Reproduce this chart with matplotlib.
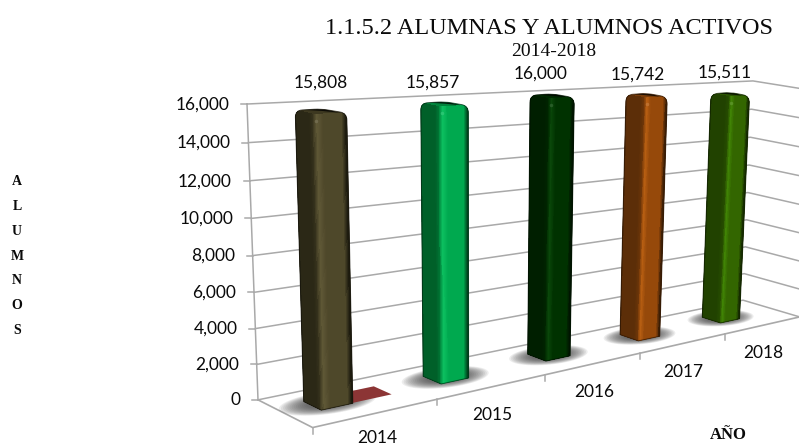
"""
Alumnas y alumnos activos 2014-2018, Excel style 3D column chart.
The perspective is a small camera matrix fitted to the chart frame.
"""
import matplotlib
matplotlib.use("Agg")
import matplotlib.pyplot as plt
import numpy as np
from matplotlib.collections import PolyCollection
from matplotlib.colors import to_rgb
from matplotlib.patches import PathPatch, Polygon
from matplotlib.path import Path

years = ["2014", "2015", "2016", "2017", "2018"]
alumnos = [15808, 15857, 16000, 15742, 15511]
alumnos_labels = ["15,808", "15,857", "16,000", "15,742", "15,511"]
serie_roja = [25, 0, 0, 0, 0]
y_ticks = [0, 2000, 4000, 6000, 8000, 10000, 12000, 14000, 16000]

side_colors = ["#2b2816", "#006029", "#001f00", "#5c2e08", "#214200"]
front_colors = ["#4e482a", "#00a94f", "#003200", "#96490a", "#336600"]
shine_colors = ["#5f5836", "#0cc060", "#0a480a", "#b85f12", "#418505"]
red_color = "#8c3535"
grid_color = "#a9a9a9"
text_color = "#0a0a0a"

VMAX = 16000.0

# frame of the chart: (category, value, depth) -> pixel, depth 0 is the front
anchors_world = np.array([
    (0, 0, 0), (1, 0, 0), (2, 0, 0), (3, 0, 0), (4, 0, 0), (5, 0, 0),
    (0, 0, 1), (5, 0, 1), (0, 1, 1), (5, 1, 1), (0, 1, 0), (5, 1, 0),
], dtype=float)
anchors_pixel = np.array([
    (313, 425), (437, 398), (545, 375), (640, 355), (725, 337), (800, 316),
    (258, 400), (743, 300), (247, 104), (753, 81), (303, 110), (808, 85),
], dtype=float)
# back wall has to sit right, the front top corners are only a guess
anchor_weight = [1, 1, 1, 1, 1, 1, 4, 4, 4, 4, 0.3, 0.3]


def fit_camera(world, pixel, weight):
    rows, rhs = [], []
    for (x, y, z), (u, v), w in zip(world, pixel, weight):
        rows.append([w * c for c in (x, y, z, 1, 0, 0, 0, 0, -u * x, -u * y, -u * z)])
        rows.append([w * c for c in (0, 0, 0, 0, x, y, z, 1, -v * x, -v * y, -v * z)])
        rhs += [w * u, w * v]
    sol = np.linalg.lstsq(np.array(rows), np.array(rhs), rcond=None)[0]
    return np.append(sol, 1.0).reshape(3, 4)


CAM = fit_camera(anchors_world, anchors_pixel, anchor_weight)


def project(cat, value, depth):
    """Chart position to pixel position"""
    p = CAM @ np.array([cat, value / VMAX, depth, 1.0])
    return p[0] / p[2], p[1] / p[2]


def mix(c1, c2, t):
    return tuple((1 - t) * a + t * b for a, b in zip(to_rgb(c1), to_rgb(c2)))


def rounded_path(pts, corners, r):
    """Closed outline, the vertices listed in corners get a rounded corner"""
    pts = [np.array(p) for p in pts]
    verts, codes = [], []
    n = len(pts)
    for i, p in enumerate(pts):
        if i in corners:
            a = p + (pts[i - 1] - p) / np.linalg.norm(pts[i - 1] - p) * r
            b = p + (pts[(i + 1) % n] - p) / np.linalg.norm(pts[(i + 1) % n] - p) * r
            verts += [a, p, b]
            codes += [Path.LINETO, Path.CURVE3, Path.CURVE3]
        else:
            verts.append(p)
            codes.append(Path.LINETO)
    codes[0] = Path.MOVETO
    verts.append(verts[0])
    codes.append(Path.CLOSEPOLY)
    return Path(np.array(verts), codes)


def draw_shadow(ax, x0, x1, z0, z1):
    cx, cz = (x0 + x1) / 2, (z0 + z1) / 2
    th = np.linspace(0, 2 * np.pi, 60)
    for f in np.linspace(1.0, 0.45, 14):
        ring = [project(cx + 0.36 * f * np.cos(t), 0, cz + 0.32 * f * np.sin(t)) for t in th]
        ax.add_patch(Polygon(ring, closed=True, fc="#3c3c3c", ec="none", alpha=0.09, zorder=3))


def face_strips(start, end, value, stops, colors, n=30):
    """Vertical strips between two floor points, shaded along the face"""
    polys, cols = [], []
    ts = np.linspace(0, 1, n + 1)
    rgb = np.array([to_rgb(c) for c in colors])
    for a, b in zip(ts[:-1], ts[1:]):
        xa, za = start[0] + a * (end[0] - start[0]), start[1] + a * (end[1] - start[1])
        xb, zb = start[0] + b * (end[0] - start[0]), start[1] + b * (end[1] - start[1])
        polys.append([project(xa, 0, za), project(xb, 0, zb),
                      project(xb, value, zb), project(xa, value, za)])
        mid = (a + b) / 2
        cols.append([np.interp(mid, stops, rgb[:, k]) for k in range(3)])
    return polys, cols


def draw_bar(ax, x0, x1, z0, z1, value, side, front, shine, order):
    bl, bf, br = project(x0, 0, z1), project(x0, 0, z0), project(x1, 0, z0)
    tl, tf, tr = project(x0, value, z1), project(x0, value, z0), project(x1, value, z0)
    # top is almost seen edge on, only a thin arc of it shows
    tb = ((tl[0] + tr[0]) / 2, min(tl[1], tr[1]) - 1.5)
    outline = rounded_path([bl, bf, br, tr, tb, tl], {3, 4, 5}, 7)
    clip = PathPatch(outline, fc="none", ec="none", transform=ax.transData)
    ax.add_patch(clip)

    # plate under the strips, fills the small wedge above the faces
    plate = PathPatch(outline, fc=mix(front, side, 0.5), ec="none", zorder=order - 0.1)
    ax.add_patch(plate)

    edge = mix(side, "#000000", 0.45)
    polys, cols = face_strips((x0, z1), (x0, z0), value, [0, 0.12, 0.8, 1],
                             [edge, side, side, mix(side, front, 0.3)])
    p2, c2 = face_strips((x0, z0), (x1, z0), value, [0, 0.12, 0.3, 0.85, 1],
                         [mix(side, front, 0.5), shine, front, front, edge])
    col = PolyCollection(polys + p2, facecolors=cols + c2, edgecolors=cols + c2,
                         linewidths=0.5, antialiaseds=False, zorder=order)
    ax.add_collection(col)
    col.set_clip_path(clip)

    # dark arc on the top edge, small bright spot on the corner
    mid_x = (tl[0] + tr[0]) / 2
    cap = Polygon([(tl[0] + 8, tl[1] - 0.5), (mid_x, tb[1] - 1), (tr[0] - 8, tr[1] - 0.5),
                   (mid_x, min(tl[1], tr[1]) + 0.5)], closed=True, fc="#000000", ec="none",
                  alpha=0.8, zorder=order + 0.1)
    ax.add_patch(cap)
    cap.set_clip_path(clip)
    ax.add_patch(PathPatch(outline, fc="none", ec=mix(side, "#000000", 0.5), lw=0.7,
                           alpha=0.7, zorder=order + 0.2))
    sx, sy = project(x0 + 0.02, value, z0)
    ax.plot([sx], [sy + 6], "o", ms=2.5, color=mix(shine, "#ffffff", 0.15), mew=0,
            alpha=0.8, zorder=order + 0.3)


fig = plt.figure(figsize=(7.99, 4.47), dpi=100)
ax = fig.add_axes([0, 0, 1, 1])
ax.set_xlim(0, 799)
ax.set_ylim(447, 0)
ax.axis("off")

n_years = len(years)

# back wall, side wall, floor
for v in y_ticks:
    left = project(0, v, 1)
    right = project(n_years, v, 1)
    far = project(n_years, v, 0)
    ax.plot([left[0], right[0], far[0]], [left[1], right[1], far[1]],
            color=grid_color, lw=1.1, zorder=1, solid_joinstyle="miter")
    ax.plot([left[0] - 6, left[0]], [left[1], left[1]], color=grid_color, lw=1.1, zorder=1)
    ax.text(left[0] - 18, left[1] + 0.5, f"{v:,}", ha="right", va="center",
            fontsize=12.5, family="Lato", color=text_color)
ax.plot(*zip(project(0, 0, 1), project(0, VMAX, 1)), color=grid_color, lw=1.1, zorder=1)
ax.plot(*zip(project(0, 0, 1), project(0, 0, 0), project(n_years, 0, 0)),
        color=grid_color, lw=1.2, zorder=1)
for i in range(n_years):
    tx, ty = project(i, 0, 0)
    ax.plot([tx, tx], [ty, ty + 6], color=grid_color, lw=1.1, zorder=1)

BAR_X = 0.23
BAR_W = 0.25
BAR_Z0 = 0.38
BAR_Z1 = 0.70
RED_W = 0.32

for i in range(n_years):
    x0, x1 = i + BAR_X, i + BAR_X + BAR_W
    draw_shadow(ax, x0, x1, BAR_Z0, BAR_Z1)

for i in range(n_years):
    if serie_roja[i] > 0:
        x0, x1 = i + BAR_X + BAR_W, i + BAR_X + BAR_W + RED_W
        ax.add_patch(Polygon([project(x0, serie_roja[i], BAR_Z1), project(x0, serie_roja[i], BAR_Z0),
                              project(x1, serie_roja[i], BAR_Z0), project(x1, serie_roja[i], BAR_Z1)],
                             closed=True, fc=red_color, ec="none", zorder=4))

for i in range(n_years):
    x0, x1 = i + BAR_X, i + BAR_X + BAR_W
    draw_bar(ax, x0, x1, BAR_Z0, BAR_Z1, alumnos[i], side_colors[i], front_colors[i],
             shine_colors[i], 5 + i)

label_x = [321, 433, 541, 638, 725]
label_y = [83, 83, 74, 75, 73]
for lx, ly, txt in zip(label_x, label_y, alumnos_labels):
    ax.text(lx, ly, txt, ha="center", va="center", fontsize=12.5, family="Lato", color=text_color)

year_label_x = [377, 492, 594, 683, 763]
year_label_y = [438, 415, 392, 372, 353]
for lx, ly, yr in zip(year_label_x, year_label_y, years):
    ax.text(lx, ly, yr, ha="center", va="center", fontsize=12.5, family="Lato", color=text_color)

ax.text(549, 29, "1.1.5.2 ALUMNAS Y ALUMNOS ACTIVOS", ha="center", va="center",
        fontsize=17.5, family="Liberation Serif", color=text_color)
ax.text(554, 52, "2014-2018", ha="center", va="center",
        fontsize=14, family="Liberation Serif", color=text_color)

ax.text(17, 256, "\n".join("ALUMNOS"), ha="center", va="center", fontsize=10,
        family="Liberation Serif", fontweight="bold", linespacing=2.18, color=text_color)
ax.text(728, 435, "AÑO", ha="center", va="center", fontsize=12,
        family="Liberation Serif", fontweight="bold", color=text_color)

fig.savefig("out.png", dpi=100)
